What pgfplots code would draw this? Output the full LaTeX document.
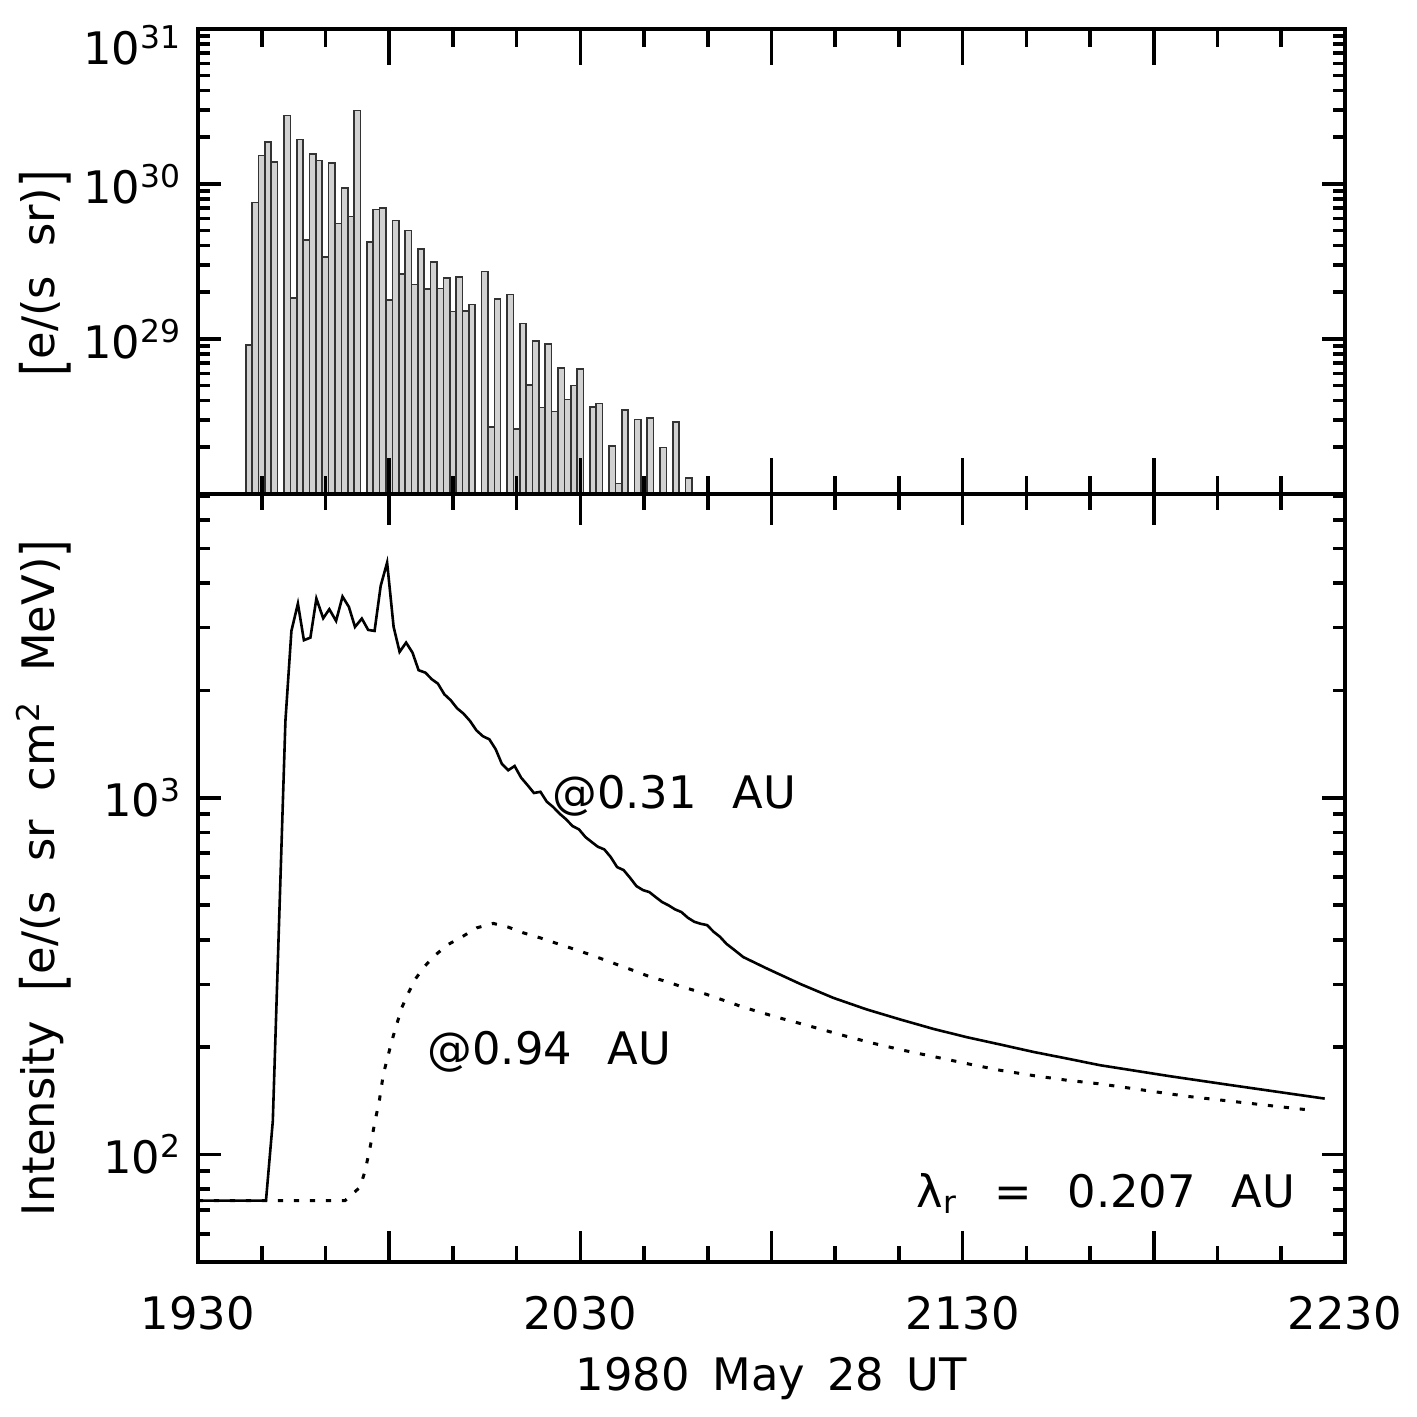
\documentclass[border=0pt]{standalone}
\usepackage{fontspec}
\setmainfont{DejaVu Sans}
\usepackage{pgfplots}
\usepackage{pgfplotstable}
\pgfplotsset{compat=1.18}
\newcommand{\gap}{\hspace{0.65em}}
\newcommand{\wgap}{\hspace{0.8em}}
\newcommand{\lb}{\raisebox{-0.2em}{\scalebox{1}[1.3]{[}}}
\newcommand{\rb}{\raisebox{-0.2em}{\scalebox{1}[1.3]{]}}}

\pgfplotstableread{
t v
8 9.1e28
9 7.6e29
10 1.53e30
11 1.87e30
12 1.38e30
14 2.77e30
15 1.84e29
16 1.93e30
17 4.36e29
18 1.56e30
19 1.42e30
20 3.39e29
21 1.37e30
22 5.56e29
23 9.4e29
24 6.15e29
25 2.98e30
27 4.22e29
28 6.83e29
29 7.0e29
30 1.79e29
31 5.81e29
32 2.62e29
33 5.01e29
34 2.24e29
35 3.82e29
36 2.10e29
37 3.15e29
38 2.12e29
39 2.48e29
40 1.50e29
41 2.52e29
42 1.52e29
43 1.67e29
45 2.72e29
46 2.71e28
47 1.81e29
49 1.93e29
50 2.62e28
51 1.26e29
52 5.04e28
53 9.7e28
54 3.61e28
55 9.3e28
56 3.40e28
57 6.47e28
58 4.07e28
59 5.01e28
60 6.41e28
62 3.64e28
63 3.83e28
65 2.03e28
66 1.17e28
67 3.47e28
69 3.02e28
71 3.08e28
73 1.99e28
75 2.92e28
77 1.27e28
}\bars

\pgfplotstableread{
t v
0 74.3
10.67 74.3
11.74 124
13.72 1641
14.66 2934
15.68 3499
16.62 2763
17.64 2810
18.58 3614
19.65 3184
20.61 3375
21.67 3130
22.68 3662
23.68 3426
24.64 3011
25.71 3177
26.71 2953
27.71 2934
28.67 3924
29.68 4560
30.70 3011
31.64 2563
32.66 2721
33.66 2551
34.62 2277
35.69 2241
36.69 2148
37.65 2088
38.65 1950
39.66 1876
40.66 1781
41.68 1720
42.69 1641
43.69 1545
44.71 1487
45.72 1458
46.72 1367
47.68 1245
48.68 1194
49.69 1227
50.71 1138
51.71 1085
52.72 1031
53.74 1039
54.74 974.5
55.74 941.7
56.75 902
57.77 870
58.77 833
59.78 815.6
60.80 776
61.74 752.5
62.76 728.7
63.76 716.6
64.77 681.9
65.77 639.3
66.79 627
67.80 596.7
68.80 565.5
69.82 551.1
70.83 543.9
71.83 526.6
72.84 510
73.85 499.3
74.86 486.6
75.86 478.2
76.88 460.9
77.89 449.1
78.89 443.4
79.90 439.5
80.92 421
81.92 407.6
82.93 389.6
84.06 375.8
85.58 357.6
89.25 332.4
94.48 300.9
99.70 274.9
104.94 255.1
110.17 239.2
115.40 225.0
120.64 213.3
125.86 203.5
131.09 194.0
136.33 185.9
141.56 178.0
152.54 165.8
161.49 157.1
176.82 143.5
}\near

\pgfplotstableread{
t v
0 74.3
23.07 74.3
25.42 81.0
26.21 89.8
26.99 104.3
27.78 124
28.45 141.2
29.08 167.7
29.87 190.7
30.56 212.3
31.18 231.5
31.97 257.7
32.85 279.7
34.06 309.6
35.62 337.7
37.35 363.8
39.28 388.1
41.64 409.6
43.74 431.9
46.34 444.4
48.70 433.9
51.05 418.2
53.67 405.0
56.03 392.1
58.38 379.7
61.00 366.2
63.36 353.6
65.71 341.1
68.31 328.1
70.67 316.2
73.29 306.2
75.64 296.5
78.26 287.1
80.62 278.0
85.58 258.8
90.82 242.7
96.05 229.0
100.75 216.9
105.73 205.5
110.69 196.0
115.93 187.4
120.64 179.9
125.86 172.3
131.09 166.5
136.33 161.6
141.56 157.8
155.13 145.7
175.24 132.8
}\far

\begin{document}
\fontsize{11.2pt}{13pt}\selectfont
\begin{tikzpicture}
\useasboundingbox (-49.5pt,-38.75pt) rectangle (304.75pt,315.5pt);
% bottom panel
\begin{axis}[at={(0,0)}, anchor=south west,
  scale only axis, width=286.75pt, height=192pt,
  xmin=0, xmax=180, ymode=log, ymin=50, ymax=7100,
  xtick={0,30,...,180},
  minor xtick={10,20,40,50,70,80,100,110,130,140,160,170},
  tick align=inside, tick pos=both,
  axis line style={line width=1pt},
  every tick/.style={black, line width=0.9pt},
  major tick length=7.75pt, minor tick length=4pt,
  ytick style={/pgfplots/major tick length=5.75pt, /pgfplots/minor tick length=3pt},
  xticklabels={1930,,2030,,2130,,2230},
  xticklabel style={anchor=base, yshift=-17pt},
  ytick={100,1000},
  yticklabels={10\textsuperscript{2},10\textsuperscript{3}},
  minor ytick={50,60,70,80,90,200,300,400,500,600,700,800,900,2000,3000,4000,5000,6000,7000},
  xlabel={1980\hspace{0.5em}May\hspace{0.5em}28\hspace{0.5em}UT},
  xlabel style={at={(axis description cs:0.5,-0.1667)}, anchor=base},
  ylabel={Intensity\gap\lb e/(s\gap sr\gap cm\textsuperscript{2}\gap MeV)\rb},
  ylabel style={at={(axis description cs:-0.1247,0.5)}, anchor=base},
]
\addplot[black, line width=0.65pt] table[x=t, y=v] {\near};
\addplot[black, line width=0.75pt, dash pattern=on 1.3pt off 2.7pt] table[x=t, y=v] {\far};
\node[anchor=base west, inner sep=0pt] at (axis cs:55.5,930) {@0.31\wgap AU};
\node[anchor=base west, inner sep=0pt] at (axis cs:35.9,178.8) {@0.94\wgap AU};
\node[anchor=base east, inner sep=0pt] at (axis cs:172.3,71.2) {λ\textsubscript{r}\wgap =\wgap 0.207\wgap AU};
\end{axis}
% top panel
\begin{axis}[name=topax, at={(0,192pt)}, anchor=south west,
  scale only axis, width=286.75pt, height=116.25pt,
  xmin=0, xmax=180, ymode=log, ymin=1e28, ymax=1e31, axis on top,
  xtick={0,30,...,180},
  minor xtick={10,20,40,50,70,80,100,110,130,140,160,170},
  tick align=inside, tick pos=both,
  axis line style={line width=1pt},
  every tick/.style={black, line width=0.9pt},
  major tick length=9pt, minor tick length=4.5pt,
  ytick style={/pgfplots/major tick length=5.75pt, /pgfplots/minor tick length=3pt},
  xticklabels={},
  ytick={1e29,1e30,1e31},
  yticklabels={10\textsuperscript{29},10\textsuperscript{30},},
  minor ytick={2e28,3e28,4e28,5e28,6e28,7e28,8e28,9e28,2e29,3e29,4e29,5e29,6e29,7e29,8e29,9e29,2e30,3e30,4e30,5e30,6e30,7e30,8e30,9e30},
  ylabel={\lb e/(s\gap sr)\rb},
  ylabel style={at={(axis description cs:-0.1247,0.474)}, anchor=base},
]
\addplot[ybar, bar width=1, fill=black!18, draw=black!80, line width=0.4pt] table[x=t, y=v] {\bars};
\end{axis}
\node[anchor=east, inner sep=0.333em, yshift=-4pt] at (topax.north west) {10\textsuperscript{31}};
\end{tikzpicture}
\end{document}
